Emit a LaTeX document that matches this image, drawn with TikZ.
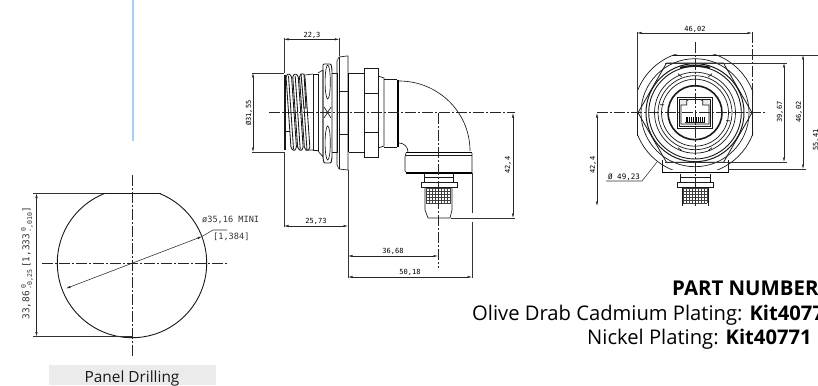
\documentclass[tikz,border=0pt]{standalone}
\usepackage{fontspec}
\setmainfont{Open Sans}
\newfontfamily\dimf{DejaVu Sans Mono}
\usetikzlibrary{arrows.meta}
\definecolor{bluerule}{HTML}{A6CEF2}
\newcommand{\stk}[2]{\makebox[0pt][l]{\raisebox{3.6pt}{\fontsize{6.6}{7}\selectfont #1}}\raisebox{-2.6pt}{\fontsize{6.6}{7}\selectfont #2}}
\tikzset{
 x=1pt,y=-1pt,
 ln/.style={draw=black!90,line width=0.65pt},
 thick line/.style={draw=black,line width=1.4pt},
 thin line/.style={draw=black!75,line width=0.45pt},
 center line/.style={draw=black!85,line width=0.6pt,dash pattern=on 11pt off 2pt on 2pt off 2pt},
 dimline/.style={draw=black!85,line width=0.55pt,{Latex[length=4.5pt,width=2.4pt]}-{Latex[length=4.5pt,width=2.4pt]}},
 extline/.style={draw=black!80,line width=0.55pt},
 dimtext/.style={inner sep=0pt,font=\dimf\fontsize{7}{8}\selectfont,text=black},
 dimrot/.style={dimtext,rotate=90},
 paneltext/.style={inner sep=0pt,font=\dimf\fontsize{8.6}{10}\selectfont,text=black!80},
 bodytext/.style={inner sep=0pt,anchor=base west,font=\fontsize{20.2}{22}\selectfont,text=black},
}
\begin{document}
\begin{tikzpicture}
\useasboundingbox (0,0) rectangle (818,385);
\clip (0,0) rectangle (818,385);
% blue line
\draw[draw=bluerule,line width=1.5pt] (133,0) -- (133,141);

%%% PANEL DRILLING
\begin{scope}
\clip (40,193.5) rectangle (225,345);
\draw[ln,line width=0.9pt] (132,263) circle (74.7);
\end{scope}
\draw[ln,line width=0.9pt] (103,193.5) -- (161,193.5);
\draw[center line] (132,175) -- (132,356);
\draw[center line] (42,263) -- (227,263);
\draw[extline] (33,193.5) -- (103,193.5);
\draw[extline] (33,336.5) -- (132,336.5);
\draw[dimline] (36.5,193.5) -- (36.5,336.5);
\coordinate (dA) at (66,288.5);
\coordinate (dB) at (202,236.5);
\coordinate (dC) at (213,230);
\coordinate (dD) at (227,230);
\draw[dimline] (dA) -- (dB);
\draw[extline] (dB) -- (dC) -- (dD);
\node[paneltext,anchor=west] (dia) at (202,220) {ø35,16 MINI};
\node[paneltext,anchor=west] (diain) at (213,237) {[1,384]};
\node[paneltext,rotate=90,font=\dimf\fontsize{9.4}{11}\selectfont] (panelh) at (27,263) {33,86\,\stk{\hspace{1pt}0}{-0,25}\hspace{2pt}[1,333\,\stk{\hspace{1pt}0}{-,010}]};
\node[fill=black!8,minimum width=167pt,minimum height=20pt,inner sep=0pt] (panelbox) at (132.5,375) {};
\node[inner sep=0pt,anchor=base,font=\fontsize{15.4}{17}\selectfont,text=black!90] (panel) at (132,382.5) {Panel Drilling};

%%% SIDE VIEW
\draw[extline] (284,38) -- (284,73);
\draw[extline] (284,152) -- (284,227);
\draw[extline] (339.3,38) -- (339.3,56);
\draw[dimline] (284,39.3) -- (339.3,39.3);
\node[dimtext] (s223) at (312,35.5) {22,3};
\draw[extline] (252,73) -- (284,73);
\draw[extline] (252,152) -- (284,152);
\draw[dimline] (253,73) -- (253,152);
\node[dimrot] (s3155) at (249,113) {Ø31,55};
% threads
\draw[ln,line width=1.2pt] (285,75) -- (285,150);
\foreach \i in {2,1,0}{
 \draw[ln,line width=0.85pt,rounded corners=1.2pt,fill=white] ({286+6.7*\i},76) -- ({288.5+6.7*\i},73.5) -- ({291.5+6.7*\i},76) -- ({296.5+6.7*\i},148) -- ({294+6.7*\i},151) -- ({291+6.7*\i},148) -- cycle;
 \draw[ln,line width=0.85pt] ({288.5+6.7*\i},76) -- ({293.5+6.7*\i},149);
}
\draw[ln,line width=0.9pt,fill=white] (301,74) -- (304,74) -- (306,108) -- (304,108) -- cycle;
\draw[ln,line width=1pt] (285,131.5) -- (290,131.5) (285,131.5) -- (285,149);
\draw[ln] (305,75) -- (313,74) (305,150) -- (313,150);
\draw[ln] (313,74) rectangle (318,150);
\draw[ln] (318,73) -- (323,70) (318,151) -- (323,157) (323,70) -- (323,157);
\draw[ln,line width=0.9pt,rounded corners=1pt] (323,64) -- (331,64) -- (332,70) -- (332,158) -- (331,163) -- (324,163) -- (323,158) -- (323,68) -- cycle;
\draw[ln] (327.7,82) ellipse (2.6 and 17);
\draw[ln] (327.7,143) ellipse (2.6 and 17);
\draw[ln] (324,107) -- (331,118) (331,107) -- (324,118);
\draw[ln] (332,73) -- (337,73) -- (337,152) -- (332,152);
% flange
\draw[ln] (339,57) -- (347,56) -- (348,56) -- (348,170) -- (339,169) -- (337,165) -- (337,61) -- cycle;
\draw[ln] (339,57) -- (339,169);
\draw[ln] (339,91) -- (348,91) (339,134) -- (348,134);
\draw[thick line] (348.5,73) -- (348.5,152);
% neck, hex, steps
\draw[ln] (349,73) -- (364,73) (349,152) -- (364,152);
\draw[ln,line width=0.9pt] (364,68) rectangle (378,157);
\draw[ln] (364,93) -- (378,93) (364,132) -- (378,132);
\draw[ln] (378,76) -- (384,78) -- (384,146) -- (378,148);
\draw[ln] (384,79) -- (397,79) (384,147) -- (397,147);
\draw[thick line] (398,80) -- (398,147);
% elbow
\draw[ln] (399,81) .. controls (438,81) and (470,112) .. (470,151);
\draw[ln] (399,143) .. controls (404,143) and (408,147) .. (408,152);
% housing
\draw[thick line] (406,152.5) -- (472,152.5);
\draw[ln] (406,155) -- (472,155);
\draw[ln] (406,153) -- (405,157) -- (405,171) -- (407,173) (472,153) -- (472,173);
\draw[thick line] (406,173) -- (472,173);
\draw[ln] (424,174) -- (424,182) (453,174) -- (453,182);
\draw[ln] (424,177) -- (453,177);
\draw[ln,line width=0.8pt] (421,182) rectangle (457,187);
\draw[ln] (425,187) -- (425,210) -- (428,218) -- (450,218) -- (452,210) -- (452,187);
\foreach \k in {0,1,...,8}{\draw[thin line,line width=0.8pt] ({426+3*\k},188) -- ({426+3*\k},203);}
\foreach \k in {0,1,...,5}{\draw[thin line,line width=0.8pt] (426,{188+3*\k}) -- (451,{188+3*\k});}
% side centre lines, dims
\draw[center line] (269,112.7) -- (515,112.7);
\draw[center line] (438,113) -- (438,268);
\draw[extline] (451,218) -- (515,218);
\draw[dimline] (513,113) -- (513,218);
\node[dimrot] (s424) at (508,165) {42,4};
\draw[extline] (472,173) -- (472,213) (472,222) -- (472,278);
\draw[extline] (348,170) -- (348,278);
\draw[dimline] (284,226) -- (348,226);
\node[dimtext] (s2573) at (316,221.5) {25,73};
\draw[dimline] (348,256) -- (438,256);
\node[dimtext] (s3668) at (393,251.5) {36,68};
\draw[dimline] (348,277) -- (472,277);
\node[dimtext] (s5018) at (410,272.5) {50,18};

%%% FRONT VIEW
\begin{scope}[shift={(695,112.7)}]
\begin{scope}
\clip (-58,-57.7) rectangle (58,56.5);
\draw[ln,line width=0.7pt] (0,0) circle (61.5);
\end{scope}
\draw[ln,line width=0.7pt] (-23,-57.7) -- (23,-57.7) (-57.7,-23) -- (-57.7,23) (57.7,-23) -- (57.7,23);
\draw[ln,line width=0.8pt,fill=none] (-57,0) -- (-28.5,-49.6) -- (28.5,-49.6) -- (57,0) -- (28.5,49.6) -- (-28.5,49.6) -- cycle;
\draw[ln,line width=0.7pt] (0,0) circle (54);
\draw[ln,line width=1pt] (0,0) circle (49);
\draw[ln,line width=0.9pt] (0,0) circle (46.3);
\draw[ln,line width=0.7pt] (0,0) circle (40.5);
\draw[ln,line width=0.7pt] (0,0) circle (37);
\draw[ln,line width=0.7pt] (0,0) circle (33.5);
\draw[ln,line width=1.6pt] (0,0) circle (27);
\draw[ln,line width=1.8pt] (-15,-45) .. controls (-6,-47.5) and (6,-47.5) .. (15,-45);
\draw[ln] (-17,-39) -- (-13,-35.5) (17,-39) -- (13,-35.5) (-35,-8) -- (-31,-8) (35,8) -- (31,8) (-17,35) -- (-13,38) (17,35) -- (13,38);
\end{scope}
\draw[ln,line width=0.7pt] (677,97) rectangle (712,128);
\draw[ln,line width=0.7pt,fill=black!8] (679,99) rectangle (710,126);
\draw[ln,fill=white] (681,105) -- (686.7,105) -- (686.7,100.7) -- (689,99.5) -- (700,99.5) -- (702.7,100.7) -- (702.7,105) -- (709,105) -- (709,124) -- (681,124) -- cycle;
\foreach \k in {0,1,...,10}{\draw[draw=black,line width=0.9pt] ({686+1.8*\k},117) -- ({686+1.8*\k},122);}
\draw[ln] (685,122.5) -- (705,122.5);
% base
\draw[ln] (662,160) -- (662,173) (728,160) -- (728,173);
\draw[thick line] (662,172.5) -- (728,172.5);
\draw[ln] (680,174) -- (680,182) (710,174) -- (710,182) (680,177) -- (710,177);
\draw[ln,line width=0.8pt] (677,182) rectangle (713,187);
\draw[ln] (682,187) -- (682,206) (708,187) -- (708,206);
\foreach \k in {0,1,...,8}{\draw[thin line,line width=0.8pt] ({683+3*\k},188) -- ({683+3*\k},203);}
\foreach \k in {0,1,...,5}{\draw[thin line,line width=0.8pt] (683,{188+3*\k}) -- (707,{188+3*\k});}
% front centre lines, dims
\draw[center line] (695,42) -- (695,206);
\draw[center line] (597,112.7) -- (765,112.7);
\draw[extline] (637,32) -- (637,112);
\draw[center line] (752,32) -- (752,112);
\draw[dimline] (637,33) -- (752,33);
\node[dimtext] (f4602) at (695,29.5) {46,02};
\draw[dimline] (597,113) -- (597,206);
\node[dimrot] (f424) at (593,165) {42,4};
\draw[extline] (718,55) -- (818,55);
\draw[extline] (665,63) -- (787,63);
\draw[extline] (665,162) -- (787,162);
\draw[extline] (728,169) -- (806,169);
\draw[dimline] (784,63) -- (784,162);
\draw[dimline] (803,55) -- (803,169);
\node[dimrot] (f3967) at (780,112) {39,67};
\node[dimrot] (f4602b) at (799,112) {46,02};
\node[dimrot] (f5541) at (816,140) {55,41};
\draw[extline] (606,181) -- (642,181) -- (657,162);
\node[dimtext,anchor=base west,font=\dimf\fontsize{7.5}{9}\selectfont] (f4923) at (608,179) {Ø 49,23};

%%% TEXT
\node[bodytext,font=\bfseries\fontsize{20.4}{22}\selectfont] (pn) at (672,295) {PART NUMBERS};
\node[bodytext] (olive) at (472,320.5) {Olive Drab Cadmium Plating: \textbf{Kit40771}};
\node[bodytext] (nickel) at (587,344.5) {Nickel Plating: \textbf{Kit40771}};
\end{tikzpicture}
\end{document}
